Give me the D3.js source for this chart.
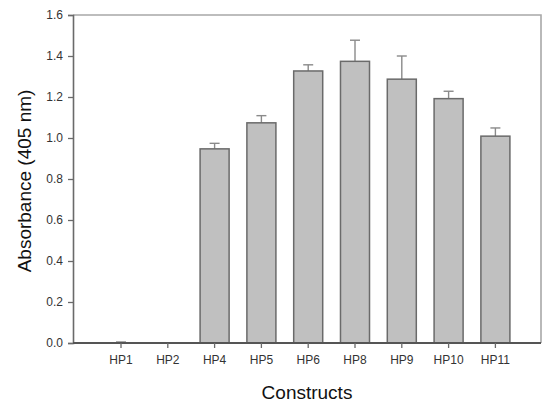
<!DOCTYPE html>
<html>
<head>
<meta charset="utf-8">
<script src="https://cdn.jsdelivr.net/npm/d3@7/dist/d3.min.js"></script>
<style>
  html, body { margin: 0; padding: 0; background: #fff; }
  svg { display: block; font-family: "Liberation Sans", Arial, sans-serif; }
</style>
</head>
<body>
<svg id="chart" width="543" height="406"></svg>
<script>
// Absorbance at 405 nm for each construct, mean with error (SD)
const constructs = ["HP1", "HP2", "HP4", "HP5", "HP6", "HP8", "HP9", "HP10", "HP11"];
const absorbance = [0.0, 0.0, 0.947, 1.074, 1.327, 1.374, 1.287, 1.192, 1.009];
const errors     = [0.005, 0.0, 0.027, 0.035, 0.03, 0.103, 0.113, 0.036, 0.04];
const yTicks = [0.0, 0.2, 0.4, 0.6, 0.8, 1.0, 1.2, 1.4, 1.6];

(function () {
  const svg = d3.select("#chart");

  // plot frame
  const plotL = 73, plotR = 541, plotT = 15, plotB = 343;

  const x = d3.scaleBand()
    .domain(constructs)
    .range([97.6, 518.8])
    .paddingInner(0.38)
    .paddingOuter(0.19);

  const y = d3.scaleLinear().domain([0, 1.6]).range([plotB, plotT]);

  // top and right frame lines
  svg.append("path")
    .attr("d", `M${plotL},${plotT}H${plotR}V${plotB}`)
    .attr("fill", "none")
    .attr("stroke", "#a8a8a8")
    .attr("stroke-width", 1.6);

  const data = constructs.map((c, i) => ({ c, v: absorbance[i], e: errors[i] }));

  // error bars (upper only)
  const eb = svg.append("g").attr("stroke", "#8a8a8a").attr("stroke-width", 1.4);
  data.filter(d => d.e > 0).forEach(d => {
    const cx = x(d.c) + x.bandwidth() / 2;
    eb.append("line")
      .attr("x1", cx).attr("x2", cx)
      .attr("y1", y(d.v)).attr("y2", y(d.v + d.e));
    eb.append("line")
      .attr("x1", cx - 5).attr("x2", cx + 5)
      .attr("y1", y(d.v + d.e)).attr("y2", y(d.v + d.e));
  });

  // bars
  svg.append("g")
    .selectAll("rect")
    .data(data.filter(d => d.v > 0))
    .join("rect")
    .attr("x", d => x(d.c))
    .attr("y", d => y(d.v))
    .attr("width", x.bandwidth())
    .attr("height", d => y(0) - y(d.v))
    .attr("fill", "#c0c0c0")
    .attr("stroke", "#6a6a6a")
    .attr("stroke-width", 1.5);

  // y axis
  const yAxis = svg.append("g")
    .attr("transform", `translate(${plotL},0)`)
    .call(d3.axisLeft(y).tickValues(yTicks).tickFormat(d3.format(".1f")).tickSize(5).tickPadding(5));
  yAxis.select(".domain").attr("stroke", "#6a6a6a").attr("stroke-width", 1.6);
  yAxis.selectAll(".tick line").attr("stroke", "#6a6a6a").attr("stroke-width", 1.3);
  yAxis.selectAll(".tick text").attr("fill", "#333").style("font-size", "12px");

  // x axis
  const xAxis = svg.append("g")
    .attr("transform", `translate(0,${plotB})`)
    .call(d3.axisBottom(x).tickSize(5).tickPadding(7).tickSizeOuter(0));
  xAxis.select(".domain")
    .attr("d", `M${plotL},0H${plotR}`)
    .attr("stroke", "#555")
    .attr("stroke-width", 1.8);
  xAxis.selectAll(".tick line").attr("stroke", "#6a6a6a").attr("stroke-width", 1.3);
  xAxis.selectAll(".tick text").attr("fill", "#333").style("font-size", "12px");

  // axis titles
  svg.append("text")
    .attr("x", (plotL + plotR) / 2)
    .attr("y", 399)
    .attr("text-anchor", "middle")
    .attr("fill", "#111")
    .style("font-size", "19px")
    .text("Constructs");

  svg.append("text")
    .attr("transform", `translate(31,${(plotT + plotB) / 2 + 2}) rotate(-90)`)
    .attr("text-anchor", "middle")
    .attr("fill", "#111")
    .style("font-size", "19px")
    .text("Absorbance (405 nm)");
})();
</script>
</body>
</html>
